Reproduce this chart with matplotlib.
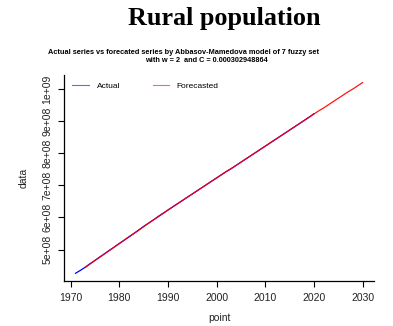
import matplotlib
matplotlib.use("Agg")
import matplotlib.pyplot as plt
from matplotlib.lines import Line2D

plt.rcParams['font.family'] = ['Liberation Sans', 'DejaVu Sans']

# Observed series (millions of people)
actual_years = list(range(1971, 2021))
actual_vals = [426, 435, 445, 456, 466, 477, 487, 498, 508, 519,
               529, 540, 550, 561, 572, 582, 592, 603, 613, 623,
               633, 643, 653, 663, 673, 683, 693, 703, 713, 723,
               733, 743, 752, 762, 772, 782, 792, 802, 812, 822,
               832, 842, 852, 862, 872, 882, 892, 902, 912, 923]

# Fitted and forecasted series (millions of people)
fc_years = list(range(1973, 2031))
fc_vals = [444, 455, 466, 476, 487, 497, 508, 518, 529, 539,
           550, 560, 571, 582, 592, 602, 612, 623, 633, 643,
           653, 663, 673, 683, 693, 703, 713, 723, 733, 743,
           752, 762, 772, 782, 792, 802, 812, 822, 832, 842,
           852, 862, 872, 882, 892, 902, 912, 922, 932, 941,
           951, 961, 971, 981, 991, 1000, 1010, 1020]

x_ticks = [1970, 1980, 1990, 2000, 2010, 2020, 2030]
y_ticks = [5e8, 6e8, 7e8, 8e8, 9e8, 1e9]
y_labels = ["5e+08", "6e+08", "7e+08", "8e+08", "9e+08", "1e+09"]

fig = plt.figure(figsize=(3.93, 3.26), dpi=100)
ax = fig.add_axes([64/393, 1-281/326, (374-64)/393, (281-75)/326])

ax.plot(actual_years, [v*1e6 for v in actual_vals], color="blue", lw=0.9)
ax.plot(fc_years, [v*1e6 for v in fc_vals], color="red", lw=0.9, alpha=0.92)

ax.set_xlim(1968.64, 2032.36)
ax.set_ylim(4.02e8, 1.0437e9)

for s in ["top", "right"]:
    ax.spines[s].set_visible(False)
for s in ["left", "bottom"]:
    ax.spines[s].set_linewidth(0.9)

ax.set_xticks(x_ticks)
ax.set_xticklabels([str(t) for t in x_ticks], fontsize=7.5, color="#222222")
ax.set_yticks(y_ticks)
ax.set_yticklabels(y_labels, fontsize=7.5, color="#222222", rotation=90, va="center")
ax.tick_params(axis="both", direction="out", length=4, width=0.8, pad=4.5)

ax.set_xlabel("point", fontsize=7.5, labelpad=7, color="#222222")
ax.set_ylabel("data", fontsize=7.5, labelpad=10, color="#222222")

handles = [Line2D([], [], color="blue", lw=0.8, alpha=0.6),
           Line2D([], [], color="red", lw=0.8, alpha=0.6)]
ax.legend(handles, ["Actual", "Forecasted"], ncol=2, frameon=False,
          loc="upper left", bbox_to_anchor=(0.003, 1.0), fontsize=6,
          handlelength=2.0, columnspacing=3.9, handletextpad=0.9)

fig.text(224/393, 1-18/326, "Rural population", family="Liberation Serif",
         fontweight="bold", fontsize=18.8, ha="center", va="center")
fig.text(183/393, 1-52/326,
         "Actual series vs forecated series by Abbasov-Mamedova model of 7 fuzzy set",
         fontweight="bold", fontsize=5.35, ha="center", va="center")
fig.text(206/393, 1-61/326, "with w = 2  and C = 0.000302948864",
         fontweight="bold", fontsize=5.35, ha="center", va="center")

fig.savefig("out.png", dpi=100)
